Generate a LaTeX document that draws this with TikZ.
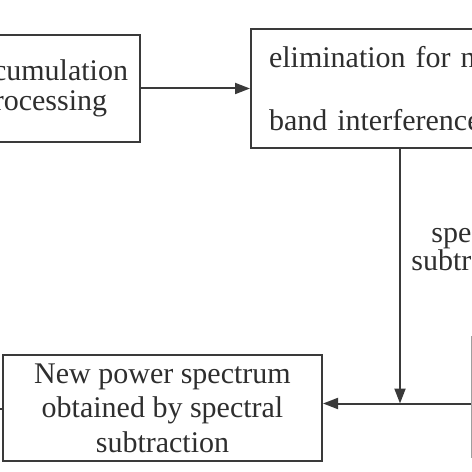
\documentclass[tikz,border=0pt]{standalone}
\usepackage{fontspec}
\setmainfont{Liberation Serif}
\usetikzlibrary{arrows.meta}
\definecolor{linegray}{HTML}{3A3A3A}
\definecolor{textgray}{HTML}{2E2E2E}
\newcommand{\blockFont}[0]{\fontsize{30bp}{34.5bp}\selectfont}

\begin{document}
\begin{tikzpicture}[x=1bp, y=-1bp]
  \tikzset{block/.style={draw=linegray, line width=2bp, text=textgray, align=center, font=\blockFont},
           flow/.style={draw=linegray, line width=2bp, -{Triangle[length=15bp,width=11bp]}}}
  \useasboundingbox (0,0) rectangle (472,472);
  \node[block, minimum width=194bp, minimum height=107bp,
        font=\fontsize{30bp}{29.5bp}\selectfont] (acc) at (43,88.5) {Accumulation\\processing};
  \node[block, anchor=west, minimum height=119bp, text width=300bp, inner xsep=18bp,
        align=left] (elim) at (250,88.5) {elimination for narrow-\\[28bp]band interference};
  \node[block, minimum width=319bp, minimum height=106bp] (new) at (162.5,408)
        {New power spectrum\\obtained by spectral\\subtraction};
  \node[block, draw=gray!75, anchor=west, minimum width=200bp, minimum height=120bp] (ref) at (471,397) {};
  \node[text=textgray, align=center, font=\fontsize{30bp}{28bp}\selectfont] (sub) at (478,246) {spectral\\subtraction};
  \coordinate (j) at (400,403.5);
  \coordinate (out) at (-40,409);
  \draw[flow] (acc) -- (elim);
  \draw[flow] (j |- elim.south) -- (j);
  \draw[flow] (j -| ref.west) -- (j -| new.east);
  \draw[flow] (new.west |- out) -- (out);
\end{tikzpicture}
\end{document}
